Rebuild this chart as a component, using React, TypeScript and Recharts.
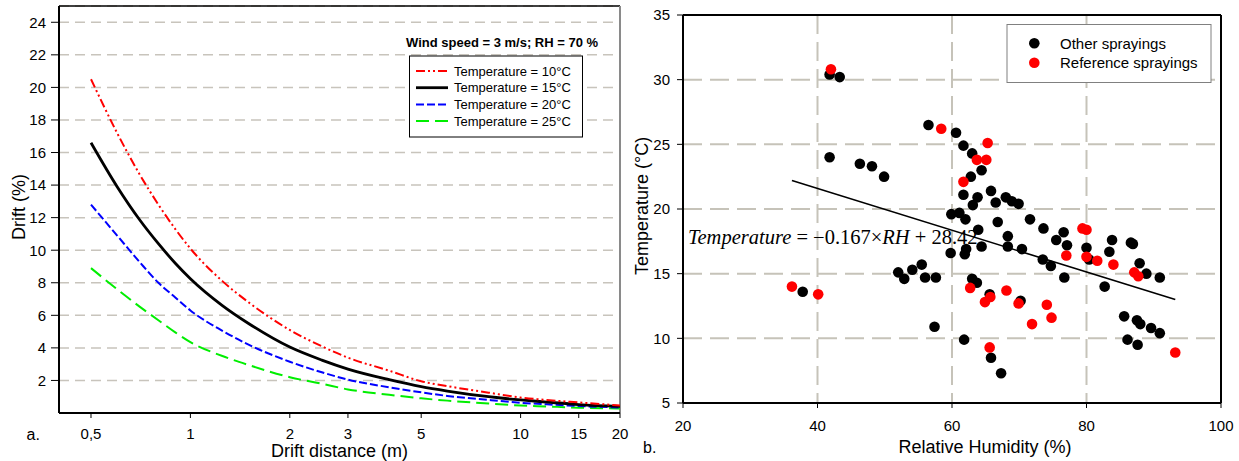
import React from 'react';
import {
  LineChart, Line, XAxis, YAxis, CartesianGrid, ReferenceLine,
  ComposedChart, Scatter,
} from 'recharts';

// ---------- Panel a: drift vs distance ----------
const DIST = [0.5, 0.6, 0.7, 0.8, 0.9, 1, 1.25, 1.5, 2, 2.5, 3, 4, 5, 6, 8, 10, 12, 15, 20];
const T10 = [20.5, 17.2, 14.7, 12.8, 11.3, 10.1, 8.1, 6.8, 5.1, 4.1, 3.4, 2.6, 1.95, 1.65, 1.25, 0.95, 0.8, 0.65, 0.46];
const T15 = [16.6, 13.9, 11.9, 10.4, 9.2, 8.25, 6.6, 5.5, 4.05, 3.25, 2.7, 2.05, 1.62, 1.35, 1.0, 0.8, 0.67, 0.52, 0.41];
const T20 = [12.8, 10.9, 9.3, 8.0, 7.1, 6.3, 5.05, 4.2, 3.15, 2.5, 2.05, 1.58, 1.27, 1.05, 0.8, 0.63, 0.53, 0.43, 0.34];
const T25 = [8.9, 7.6, 6.55, 5.7, 4.95, 4.35, 3.5, 2.95, 2.2, 1.8, 1.45, 1.12, 0.9, 0.76, 0.58, 0.46, 0.4, 0.33, 0.28];
const DIST_TICKS = [0.5, 1, 2, 3, 5, 10, 15, 20];
const DRIFT_TICKS = [2, 4, 6, 8, 10, 12, 14, 16, 18, 20, 22, 24];
const LEGEND_A = [
  { label: 'Temperature = 10°C', color: '#ff0000', dash: '9 3 2 3 2 3', width: 2 },
  { label: 'Temperature = 15°C', color: '#000000', dash: '', width: 2.8 },
  { label: 'Temperature = 20°C', color: '#0000ff', dash: '8 3', width: 2 },
  { label: 'Temperature = 25°C', color: '#00ee00', dash: '13 6', width: 2 },
];

// ---------- Panel b: temperature vs RH ----------
const OTHER: [number, number][] = [
  [41.8, 24.0], [46.3, 23.5], [48.1, 23.3], [49.9, 22.5], [41.8, 30.4], [43.3, 30.2],
  [56.5, 26.5], [60.6, 25.9], [61.7, 24.9], [63.0, 24.3], [64.4, 23.0], [62.8, 22.5],
  [61.7, 21.1], [65.8, 21.4], [63.8, 20.9], [63.1, 20.3], [66.5, 20.5], [68.0, 20.9],
  [68.9, 20.6], [69.9, 20.4], [59.9, 19.6], [61.1, 19.7], [62.0, 19.2], [66.8, 19.0],
  [63.9, 18.4], [71.6, 19.2], [73.6, 18.5], [76.6, 18.2], [75.5, 17.6], [83.8, 17.6],
  [86.6, 17.4], [86.9, 17.3], [68.3, 17.9], [64.4, 17.1], [68.3, 17.1], [70.4, 16.9],
  [77.1, 17.2], [80.0, 17.0], [83.4, 16.7], [59.8, 16.6], [62.1, 16.9], [61.9, 16.5],
  [80.4, 16.1], [73.5, 16.1], [74.7, 15.6], [87.9, 15.8], [88.9, 15.0], [90.9, 14.7],
  [76.7, 14.7], [82.7, 14.0], [55.5, 15.7], [56.0, 14.7], [57.6, 14.7], [52.0, 15.1],
  [52.9, 14.6], [54.1, 15.3], [63.0, 14.6], [63.7, 14.3], [65.6, 13.4], [70.2, 12.9],
  [57.4, 10.9], [61.8, 9.9], [65.8, 8.5], [67.3, 7.3], [85.6, 11.7], [87.5, 11.4],
  [88.0, 11.1], [89.6, 10.8], [90.9, 10.4], [86.1, 9.9], [87.6, 9.5], [37.8, 13.6],
];
const REFERENCE: [number, number][] = [
  [42.0, 30.8], [58.4, 26.2], [65.3, 25.1], [63.7, 23.8], [65.1, 23.8], [61.7, 22.1],
  [79.4, 18.5], [80.0, 18.4], [77.0, 16.4], [80.0, 16.3], [81.6, 16.0], [84.0, 15.7],
  [87.1, 15.1], [87.7, 14.8], [62.7, 13.9], [68.1, 13.7], [65.7, 13.2], [64.9, 12.8],
  [69.9, 12.7], [74.1, 12.6], [74.8, 11.6], [71.9, 11.1], [65.6, 9.3], [93.2, 8.9],
  [36.2, 14.0], [40.1, 13.4],
];
const REGRESSION: [number, number][] = [[36.2, 22.2], [93.2, 13.0]];
const RH_TICKS = [20, 40, 60, 80, 100];
const TEMP_TICKS = [5, 10, 15, 20, 25, 30, 35];

const driftData = DIST.map((d, i) => ({ d, t10: T10[i], t15: T15[i], t20: T20[i], t25: T25[i] }));
const toPts = (arr: [number, number][]) => arr.map(([rh, t]) => ({ rh, t }));
const otherData = toPts(OTHER);
const refData = toPts(REFERENCE);
const regData = toPts(REGRESSION);

const FONT = '"Liberation Sans", Arial, sans-serif';
const SERIF = '"Liberation Serif", "Times New Roman", serif';

const LeftYLabel = () => (
  <text x={18.5} y={207} transform="rotate(-90 18.5 207)" textAnchor="middle"
    dominantBaseline="central" fontSize={18} fontFamily={FONT} fill="#000">Drift (%)</text>
);
const LeftXLabel = () => (
  <g>
    <text x={339.5} y={457} textAnchor="middle" fontSize={18} fontFamily={FONT} fill="#000">Drift distance (m)</text>
    <text x={26.5} y={440} textAnchor="start" fontSize={16} fontFamily={FONT} fill="#000">a.</text>
  </g>
);
const RightYLabel = () => (
  <text x={21.5} y={206} transform="rotate(-90 21.5 206)" textAnchor="middle"
    dominantBaseline="central" fontSize={18} fontFamily={FONT} fill="#000">Temperature (°C)</text>
);
const RightXLabel = () => (
  <g>
    <text x={365} y={452.5} textAnchor="middle" fontSize={18} fontFamily={FONT} fill="#000">Relative Humidity (%)</text>
    <text x={23} y={452.5} textAnchor="start" fontSize={16} fontFamily={FONT} fill="#000">b.</text>
  </g>
);

const dot = (fill: string) => (props: any) => (
  <circle cx={props.cx} cy={props.cy} r={5.3} fill={fill} />
);

export default function App() {
  const tickStyle = { fill: '#000', fontSize: 15, fontFamily: FONT };
  return (
    <div style={{ position: 'absolute', left: 0, top: 0, width: 1239, height: 461, background: '#fff', overflow: 'hidden' }}>
      <div style={{ position: 'absolute', left: 0, top: 0 }}>
        <LineChart width={640} height={461} data={driftData} margin={{ top: 6, right: 20, bottom: 0, left: 0 }}>
          <CartesianGrid horizontal vertical={false} stroke="#c8c4bc" strokeWidth={1.5} strokeDasharray="10 6" />
          <XAxis dataKey="d" type="number" scale="log" domain={[0.4, 20]} allowDataOverflow ticks={DIST_TICKS}
            interval={0} tickFormatter={(v: number) => String(v).replace('.', ',')}
            height={48} tickSize={5} tickMargin={10} tick={tickStyle}
            stroke="#000" axisLine={{ stroke: '#000', strokeWidth: 2 }} tickLine={{ stroke: '#000' }}
            label={<LeftXLabel />} />
          <YAxis type="number" domain={[0, 25]} ticks={DRIFT_TICKS} interval={0} width={59}
            tickSize={8} tickMargin={5} tick={tickStyle}
            axisLine={{ stroke: '#000', strokeWidth: 2 }} tickLine={{ stroke: '#000' }}
            label={<LeftYLabel />} />
          <ReferenceLine y={25} stroke="#000" strokeWidth={1.5} />
          <ReferenceLine x={20} stroke="#8a8a8a" strokeWidth={2} />
          <Line type="monotone" dataKey="t25" stroke="#00ee00" strokeWidth={2} strokeDasharray="13 6" dot={false} isAnimationActive={false} />
          <Line type="monotone" dataKey="t20" stroke="#0000ff" strokeWidth={2} strokeDasharray="8 3" dot={false} isAnimationActive={false} />
          <Line type="monotone" dataKey="t15" stroke="#000000" strokeWidth={2.8} dot={false} isAnimationActive={false} />
          <Line type="monotone" dataKey="t10" stroke="#ff0000" strokeWidth={2} strokeDasharray="9 3 2 3 2 3" dot={false} isAnimationActive={false} />
        </LineChart>
      </div>
      <div style={{ position: 'absolute', left: 620, top: 0 }}>
        <ComposedChart width={619} height={461} margin={{ top: 15, right: 18, bottom: 0, left: 0 }}>
          <CartesianGrid stroke="#c6c3b9" strokeWidth={2} strokeDasharray="19 8" />
          <XAxis dataKey="rh" type="number" domain={[20, 100]} ticks={RH_TICKS} interval={0}
            height={58} tickSize={5} tickMargin={12} tick={tickStyle}
            axisLine={{ stroke: '#000', strokeWidth: 2 }} tickLine={{ stroke: '#000' }}
            label={<RightXLabel />} />
          <YAxis dataKey="t" type="number" domain={[5, 35]} ticks={TEMP_TICKS} interval={0} width={63}
            tickSize={6} tickMargin={7} tick={tickStyle}
            axisLine={{ stroke: '#000', strokeWidth: 2 }} tickLine={{ stroke: '#000' }}
            label={<RightYLabel />} />
          <ReferenceLine y={35} stroke="#000" strokeWidth={2} />
          <ReferenceLine x={100} stroke="#000" strokeWidth={2} />
          <Line data={regData} dataKey="t" stroke="#000" strokeWidth={1.6} dot={false} type="linear" isAnimationActive={false} />
          <Scatter data={otherData} dataKey="t" fill="#000" shape={dot('#000')} isAnimationActive={false} />
          <Scatter data={refData} dataKey="t" fill="#ff0000" shape={dot('#ff0000')} isAnimationActive={false} />
        </ComposedChart>
      </div>
      <svg width={1239} height={461} style={{ position: 'absolute', left: 0, top: 0, pointerEvents: 'none' }}>
        <text x={406} y={46.5} fontSize={13} fontWeight="bold" fontFamily={FONT} fill="#000">Wind speed = 3 m/s; RH = 70 %</text>
        <rect x={409.5} y={56} width={173} height={81} fill="#fff" stroke="#000" strokeWidth={1} />
        {LEGEND_A.map((e, i) => (
          <g key={e.label}>
            <line x1={416} x2={448} y1={71 + i * 16.7} y2={71 + i * 16.7} stroke={e.color}
              strokeWidth={e.width} strokeDasharray={e.dash || undefined} />
            <text x={454} y={71 + i * 16.7} dominantBaseline="central" fontSize={13} fontFamily={FONT} fill="#000">{e.label}</text>
          </g>
        ))}
        <rect x={1007} y={24.5} width={204} height={58} fill="#fff" stroke="#808080" strokeWidth={1} />
        <circle cx={1034.3} cy={43.3} r={5.3} fill="#000" />
        <text x={1060} y={43.3} dominantBaseline="central" fontSize={15} fontFamily={FONT} fill="#000">Other sprayings</text>
        <circle cx={1034.3} cy={62.7} r={5.3} fill="#ff0000" />
        <text x={1060} y={62.7} dominantBaseline="central" fontSize={15} fontFamily={FONT} fill="#000">Reference sprayings</text>
        <text x={688} y={243.5} fontSize={20.5} fontFamily={SERIF} fill="#000">
          <tspan fontStyle="italic">Temperature</tspan>
          <tspan> = −0.167×</tspan>
          <tspan fontStyle="italic">RH</tspan>
          <tspan> + 28.42</tspan>
        </text>
      </svg>
    </div>
  );
}
